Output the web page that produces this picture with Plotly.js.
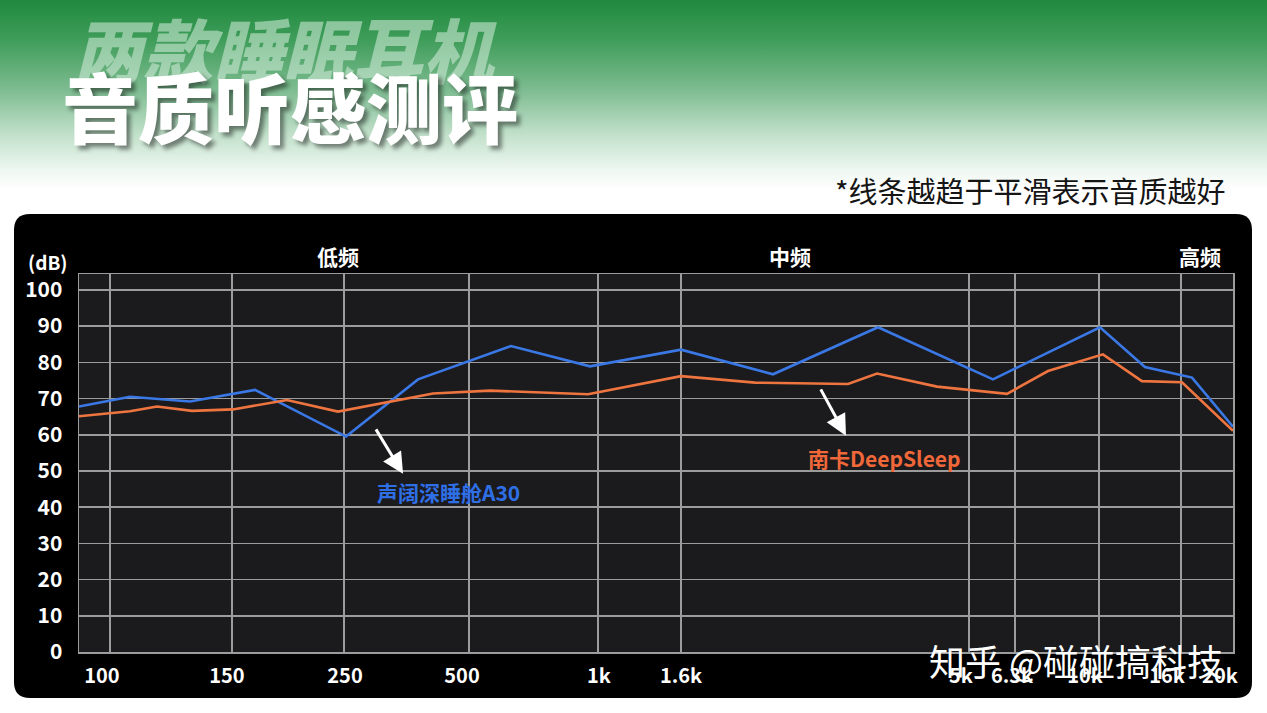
<!DOCTYPE html>
<html>
<head>
<meta charset="utf-8">
<script src="https://cdn.plot.ly/plotly-3.0.1.min.js"></script>
<style>
  html, body { margin: 0; padding: 0; }
  body {
    width: 1267px; height: 713px; overflow: hidden;
    background: linear-gradient(to bottom, #1f8a3e 0px, #3f9d5a 40px, #7ebc91 90px, #c2e1cb 135px, #eef7f1 170px, #ffffff 190px);
  }
  #chart { width: 1267px; height: 713px; }
</style>
</head>
<body>
<div id="chart"></div>
<script>
// ---- data (x positions are in axis units 0..100 across the non-uniform frequency axis) ----
const gridPositions = [2.69, 13.26, 22.96, 33.80, 44.97, 52.17, 77.12, 81.11, 88.39, 95.49];
const tickPositions = [1.99, 12.82, 23.05, 33.19, 45.06, 52.17, 76.43, 80.85, 87.18, 94.28, 98.87];
const tickLabels = ["100", "150", "250", "500", "1k", "1.6k", "5k", "6.3k", "10k", "16k", "20k"];

const a30X = [0, 4.42, 9.62, 15.25, 23.14, 29.38, 37.44, 44.28, 52.17, 60.14, 69.24, 79.20, 88.47, 92.37, 96.45, 100];
const a30Y = [67.8, 70.5, 69.2, 72.4, 59.5, 75.3, 84.5, 78.9, 83.5, 76.7, 89.7, 75.3, 89.7, 78.7, 75.8, 62.2];

const nankaX = [0, 4.42, 6.76, 9.79, 13.34, 18.02, 22.44, 30.68, 35.62, 44.11, 52.17, 58.58, 66.64, 69.15, 74.35, 80.42, 83.97, 88.73, 92.11, 95.58, 100];
const nankaY = [65.1, 66.5, 67.8, 66.6, 67.0, 69.6, 66.4, 71.4, 72.2, 71.2, 76.2, 74.4, 74.0, 76.9, 73.3, 71.3, 77.6, 82.2, 74.8, 74.5, 61.1];

const yTicks = [0, 10, 20, 30, 40, 50, 60, 70, 80, 90, 100];

const seriesNames = ["声阔深睡舱A30", "南卡DeepSleep"];
const bandLabels = ["低频", "中频", "高频"];

// ---- styling ----
const CJK = '"Noto Sans CJK SC", "Noto Sans", sans-serif';
const GRID = '#9c9c9c';
const BLUE = '#3a78e6';
const ORANGE = '#ee7440';

const traces = [
  { x: a30X, y: a30Y, type: 'scatter', mode: 'lines', name: seriesNames[0],
    line: { color: BLUE, width: 2.6 }, xaxis: 'x', yaxis: 'y', hoverinfo: 'skip' },
  { x: nankaX, y: nankaY, type: 'scatter', mode: 'lines', name: seriesNames[1],
    line: { color: ORANGE, width: 2.6 }, xaxis: 'x', yaxis: 'y', hoverinfo: 'skip' },
  // invisible carrier so the tick-label axis (x2) is drawn
  { x: [tickPositions[0]], y: [0], type: 'scatter', mode: 'markers', marker: { opacity: 0 },
    xaxis: 'x2', yaxis: 'y', hoverinfo: 'skip', showlegend: false }
];

// rounded black panel in paper coords
const x0 = -0.05633, x1 = 1.01646, y0 = -0.1217, y1 = 1.1587;
const rx = 16 / 1154, ry = 16 / 378;
const panelPath = `M ${x0 + rx},${y1} L ${x1 - rx},${y1} Q ${x1},${y1} ${x1},${y1 - ry} ` +
  `L ${x1},${y0 + ry} Q ${x1},${y0} ${x1 - rx},${y0} L ${x0 + rx},${y0} Q ${x0},${y0} ${x0},${y0 + ry} ` +
  `L ${x0},${y1 - ry} Q ${x0},${y1} ${x0 + rx},${y1} Z`;

function note(x, y, text, font, extra) {
  return Object.assign({ xref: 'paper', yref: 'paper', x: x, y: y, text: text, showarrow: false,
    xanchor: 'center', yanchor: 'middle', font: font }, extra || {});
}

const layout = {
  width: 1267, height: 713,
  margin: { l: 79, r: 34, t: 274, b: 61, pad: 0 },
  paper_bgcolor: 'rgba(0,0,0,0)',
  plot_bgcolor: 'rgba(0,0,0,0)',
  showlegend: false,
  font: { family: CJK, color: '#ffffff' },
  xaxis: {
    range: [0, 100], tickvals: gridPositions, showticklabels: false, ticks: '',
    showgrid: true, gridcolor: GRID, gridwidth: 1.5, zeroline: false,
    showline: true, mirror: true, linecolor: GRID, linewidth: 1.5, fixedrange: true
  },
  xaxis2: {
    range: [0, 100], overlaying: 'x', anchor: 'y', side: 'bottom',
    tickmode: 'array', tickvals: tickPositions, ticktext: tickLabels,
    showgrid: false, zeroline: false, showline: false, ticks: '',
    ticklabelstandoff: 10,
    tickfont: { family: CJK, size: 20, color: '#ffffff', weight: 'bold' }, fixedrange: true
  },
  yaxis: {
    range: [0, 104.4], tickvals: yTicks, ticks: '',
    showgrid: true, gridcolor: GRID, gridwidth: 1.5, zeroline: false,
    showline: true, mirror: true, linecolor: GRID, linewidth: 1.5,
    ticklabelstandoff: 11,
    tickfont: { family: CJK, size: 21, color: '#ffffff', weight: 'bold' }, fixedrange: true
  },
  shapes: [
    { type: 'path', xref: 'paper', yref: 'paper', path: panelPath, fillcolor: '#000000', line: { width: 0 }, layer: 'below' },
    { type: 'rect', xref: 'paper', yref: 'paper', x0: 0, x1: 1, y0: 0, y1: 1, fillcolor: '#1b1b1d', line: { width: 0 }, layer: 'below' }
  ],
  annotations: [
    // header titles
    note(0.1785, 1.60, '两款睡眠耳机',
      { family: CJK, size: 70, color: 'rgba(215,238,222,0.55)', weight: 900, style: 'italic' }),
    note(0.183, 1.447, '音质听感测评',
      { family: CJK, size: 76, color: '#ffffff', weight: 900, shadow: '4px 4px 4px rgba(0,0,0,0.45)' }),
    note(0.9957, 1.222, '*线条越趋于平滑表示音质越好',
      { family: CJK, size: 29, color: '#151515' }, { xanchor: 'right' }),
    // panel labels
    note(-0.0269, 1.034, '(dB)', { family: CJK, size: 19, color: '#ffffff', weight: 'bold' }),
    note(0.2244, 1.0476, bandLabels[0], { family: CJK, size: 21, color: '#ffffff', weight: 'bold' }),
    note(0.616, 1.0476, bandLabels[1], { family: CJK, size: 21, color: '#ffffff', weight: 'bold' }),
    note(0.9714, 1.0476, bandLabels[2], { family: CJK, size: 21, color: '#ffffff', weight: 'bold' }),
    // series labels
    { xref: 'x', yref: 'y', x: 31.98, y: 44.2, text: seriesNames[0], showarrow: false,
      xanchor: 'center', yanchor: 'middle',
      font: { family: CJK, size: 21, color: '#2f6fe6', weight: 'bold' } },
    { xref: 'x', yref: 'y', x: 69.84, y: 53.6, text: seriesNames[1], showarrow: false,
      xanchor: 'center', yanchor: 'middle',
      font: { family: CJK, size: 21, color: '#f0683a', weight: 'bold' } },
    // arrows
    { xref: 'x', yref: 'y', x: 28.08, y: 49.2, ax: -28, ay: -46, text: '', showarrow: true,
      arrowcolor: '#ffffff', arrowwidth: 3, arrowhead: 2, arrowsize: 1.4 },
    { xref: 'x', yref: 'y', x: 66.46, y: 59.7, ax: -26, ay: -48, text: '', showarrow: true,
      arrowcolor: '#ffffff', arrowwidth: 3, arrowhead: 2, arrowsize: 1.4 },
    // watermark
    note(0.864, -0.021, '知乎 @碰碰搞科技', { family: CJK, size: 36, color: '#ffffff' })
  ]
};

Plotly.newPlot('chart', traces, layout, { displayModeBar: false, staticPlot: true });
</script>
</body>
</html>
